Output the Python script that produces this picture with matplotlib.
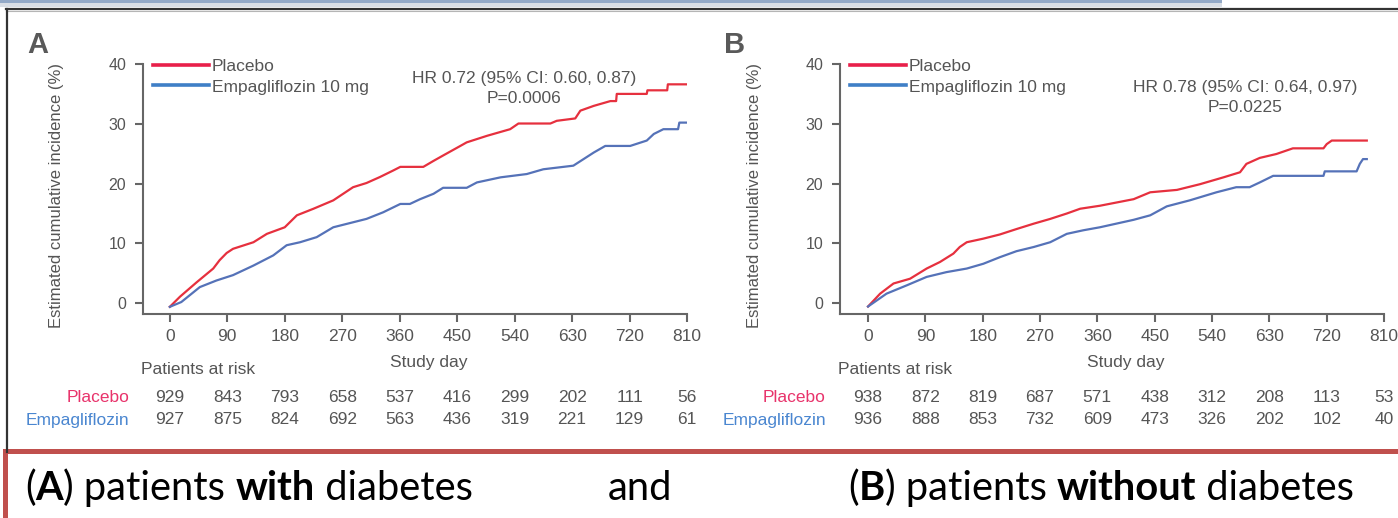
import numpy as np
import matplotlib
matplotlib.use("Agg")
import matplotlib.pyplot as plt
from matplotlib.lines import Line2D
from matplotlib.patches import Rectangle
import matplotlib.transforms as mtransforms

plt.rcParams["font.family"] = ["Liberation Sans", "DejaVu Sans"]

# cumulative incidence curves (day, %)
days_a_pbo = [0, 16, 42, 68, 78, 89, 99, 131, 152, 180, 199, 225, 256, 287, 308, 329, 350, 361,
              397, 413, 428, 455, 465, 497, 533, 546, 596, 606, 635, 643, 664, 690, 699, 700,
              747, 748, 779, 780, 810]
inc_a_pbo = [-0.6, 1.1, 3.5, 5.8, 7.2, 8.4, 9.1, 10.2, 11.6, 12.7, 14.7, 15.8, 17.2, 19.4, 20.1,
             21.1, 22.2, 22.8, 22.8, 23.8, 24.7, 26.3, 26.9, 28.0, 29.1, 30.05, 30.05, 30.5,
             30.9, 32.2, 33.0, 33.8, 33.8, 35.0, 35.0, 35.6, 35.6, 36.6, 36.6]
days_a_emp = [0, 18, 47, 73, 99, 131, 162, 183, 204, 230, 256, 282, 308, 334, 361, 376, 392, 413,
              428, 465, 481, 518, 559, 585, 632, 648, 664, 682, 721, 747, 758, 773, 796, 798, 810]
inc_a_emp = [-0.6, 0.2, 2.7, 3.8, 4.7, 6.3, 8.0, 9.7, 10.2, 11.05, 12.7, 13.4, 14.1, 15.2, 16.6,
             16.6, 17.4, 18.3, 19.3, 19.3, 20.2, 21.05, 21.6, 22.4, 23.0, 24.1, 25.2, 26.3,
             26.3, 27.2, 28.3, 29.1, 29.1, 30.2, 30.2]

days_b_pbo = [0, 19, 40, 66, 92, 113, 134, 144, 155, 181, 207, 233, 260, 286, 312, 333, 364, 417,
              443, 485, 521, 558, 584, 594, 615, 641, 667, 715, 720, 728, 783]
inc_b_pbo = [-0.55, 1.6, 3.3, 4.1, 5.8, 6.9, 8.3, 9.4, 10.2, 10.8, 11.5, 12.4, 13.3, 14.1, 15.0,
             15.8, 16.3, 17.4, 18.55, 18.95, 19.9, 21.05, 21.9, 23.3, 24.3, 24.95, 25.9, 25.9,
             26.6, 27.2, 27.2]
days_b_emp = [0, 29, 61, 92, 123, 155, 181, 207, 233, 260, 286, 312, 338, 364, 417, 443, 469, 505,
              547, 578, 599, 615, 636, 715, 717, 767, 772, 777, 783]
inc_b_emp = [-0.55, 1.6, 3.0, 4.4, 5.2, 5.8, 6.6, 7.7, 8.7, 9.4, 10.2, 11.6, 12.2, 12.7, 13.95,
             14.7, 16.2, 17.2, 18.55, 19.4, 19.4, 20.2, 21.3, 21.3, 22.05, 22.05, 23.3, 24.1, 24.1]

# patients at risk
risk_days = [0, 90, 180, 270, 360, 450, 540, 630, 720, 810]
risk_a_pbo = [929, 843, 793, 658, 537, 416, 299, 202, 111, 56]
risk_a_emp = [927, 875, 824, 692, 563, 436, 319, 221, 129, 61]
risk_b_pbo = [938, 872, 819, 687, 571, 438, 312, 208, 113, 53]
risk_b_emp = [936, 888, 853, 732, 609, 473, 326, 202, 102, 40]

hr_a = ["HR 0.72 (95% CI: 0.60, 0.87)", "P=0.0006"]
hr_b = ["HR 0.78 (95% CI: 0.64, 0.97)", "P=0.0225"]

RED = "#e6303e"
BLUE = "#5572b8"
GREY = "#555555"
FS = 12.5

W, H = 1398, 518
fig = plt.figure(figsize=(W / 100, H / 100), dpi=100)


def fx(x):
    return x / W


def fy(y):
    return 1 - y / H


# slide frame at the top
fig.patches.append(Rectangle((0, fy(3)), fx(1222), 3 / H, transform=fig.transFigure,
                             facecolor="#93a9c7", edgecolor="none"))
fig.patches.append(Rectangle((0, fy(7)), fx(1222), 4 / H, transform=fig.transFigure,
                             facecolor="#d9dee5", edgecolor="none"))
fig.lines.append(Line2D([fx(6), 1], [fy(9), fy(9)], transform=fig.transFigure,
                        color="#333333", lw=1.6))
fig.lines.append(Line2D([fx(6), 1], [fy(11), fy(11)], transform=fig.transFigure,
                        color="#b5b5b5", lw=0.8))
fig.lines.append(Line2D([fx(7), fx(7)], [fy(9), fy(452)], transform=fig.transFigure,
                        color="#333333", lw=1.6))


def panel(x0, xmin, letter, ylab_x, curves, risks, hr, hr_pos, lab_right):
    ax = fig.add_axes([fx(x0), fy(314), 544 / W, 250 / H])
    ax.set_xlim(xmin, 810)
    ax.set_ylim(-1.8, 40)
    for s in ["top", "right"]:
        ax.spines[s].set_visible(False)
    for s in ["left", "bottom"]:
        ax.spines[s].set_linewidth(1.5)
        ax.spines[s].set_color("#666666")
    ax.set_xticks(risk_days)
    ax.set_yticks([0, 10, 20, 30, 40])
    ax.tick_params(direction="out", length=6, width=1.5, color="#666666",
                   labelcolor=GREY, pad=5)
    ax.tick_params(axis="x", labelsize=12.5, pad=5)
    ax.tick_params(axis="y", labelsize=11.5, pad=6)

    (dp, ip), (de, ie) = curves
    ax.plot(dp, ip, color=RED, lw=1.6)
    ax.plot(de, ie, color=BLUE, lw=1.6)

    handles = [Line2D([], [], color="#e8204a", lw=2.6), Line2D([], [], color="#3f7fc6", lw=2.6)]
    ax.legend(handles, ["Placebo", "Empagliflozin 10 mg"], loc="upper left",
              bbox_to_anchor=(fx(x0 + 10), fy(59)), bbox_transform=fig.transFigure,
              frameon=False, borderpad=0, borderaxespad=0, handlelength=3.2,
              handletextpad=0.2, labelspacing=0.3, fontsize=FS, labelcolor=GREY)

    ax.text(hr_pos[0], hr_pos[1], hr[0], ha="center", va="center", fontsize=FS, color=GREY)
    ax.text(hr_pos[0], hr_pos[2], hr[1], ha="center", va="center", fontsize=FS, color=GREY)

    fig.text(fx(ylab_x), fy(195), "Estimated cumulative incidence (%)", rotation=90,
             ha="center", va="center", fontsize=12, color=GREY)
    fig.text(fx(x0 - 105), fy(45), letter, ha="center", va="center", fontsize=21,
             fontweight="bold", color="#595959")

    blend = mtransforms.blended_transform_factory(ax.transData, fig.transFigure)
    ax.text(405, fy(362), "Study day", transform=blend, ha="center", va="center",
            fontsize=FS, color=GREY)
    fig.text(fx(x0 - 2), fy(370), "Patients at risk", ha="left", va="center",
             fontsize=FS, color=GREY)
    fig.text(fx(lab_right), fy(397), "Placebo", ha="right", va="center", fontsize=FS,
             color="#e8336b")
    fig.text(fx(lab_right), fy(420), "Empagliflozin", ha="right", va="center", fontsize=FS,
             color="#4a86d0")
    for row_y, vals in zip([397, 420], risks):
        for d, n in zip(risk_days, vals):
            ax.text(d, fy(row_y), str(n), transform=blend, ha="center", va="center",
                    fontsize=FS, color=GREY)
    return ax


panel(143, -42, "A", 57, [(days_a_pbo, inc_a_pbo), (days_a_emp, inc_a_emp)],
      [risk_a_pbo, risk_a_emp], hr_a, (555, 37.5, 34.2), 129)
panel(840, -44, "B", 755, [(days_b_pbo, inc_b_pbo), (days_b_emp, inc_b_emp)],
      [risk_b_pbo, risk_b_emp], hr_b, (592, 36.0, 32.8), 826)

# caption box
fig.patches.append(Rectangle((fx(4.5), fy(H + 20)), 1, (H + 20 - 451) / H,
                             transform=fig.transFigure, facecolor="white",
                             edgecolor="#c0504d", lw=3.6, clip_on=False))

renderer = fig.canvas.get_renderer()


def caption(x, parts):
    for txt, bold in parts:
        t = fig.text(fx(x), fy(500), txt, ha="left", va="baseline", fontsize=28.7,
                     family=["Lato", "DejaVu Sans"], fontweight="bold" if bold else "normal",
                     color="black")
        x = t.get_window_extent(renderer).x1


caption(25, [("(", False), ("A", True), (") patients ", False), ("with", True),
             (" diabetes", False)])
caption(608, [("and", False)])
caption(848, [("(", False), ("B", True), (") patients ", False), ("without", True),
              (" diabetes", False)])

fig.savefig("out.png", dpi=100)
